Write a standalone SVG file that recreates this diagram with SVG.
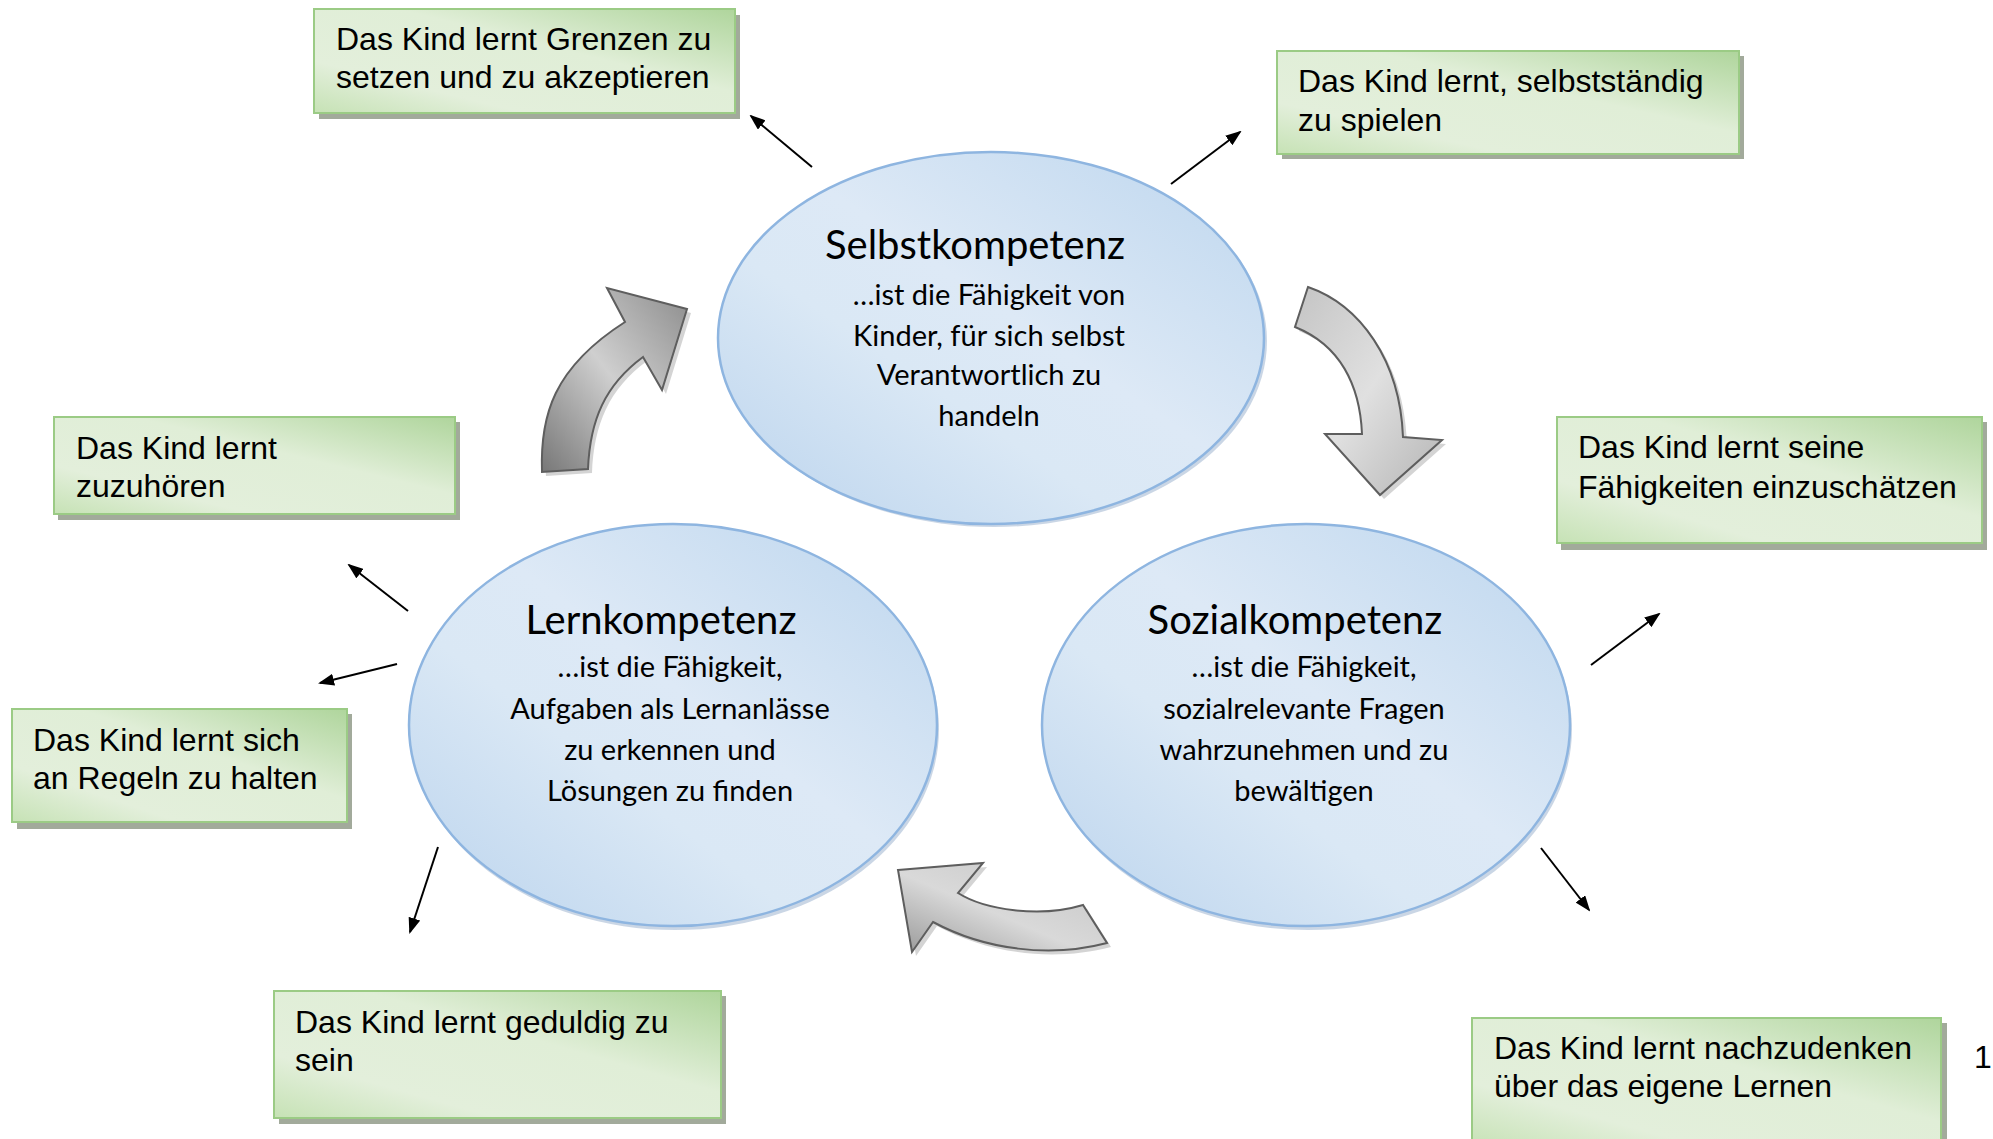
<svg xmlns="http://www.w3.org/2000/svg" width="1993" height="1139" viewBox="0 0 1993 1139">
<style>
.box{fill:url(#boxg);stroke:#9bcb85;stroke-width:2}
.bsh{fill:#a2aa9b}
.bt{font-family:"Liberation Sans",Arial,sans-serif;font-size:32px;fill:#000}
.ell{fill:url(#ellg);stroke:#8eb5e0;stroke-width:2.5}
.esh{fill:#9fb5cf;opacity:.55}
.tt{font-family:Lato,"Open Sans",sans-serif;font-size:40px;fill:#000;text-anchor:middle}
.et{font-family:Lato,"Open Sans",sans-serif;font-size:29px;fill:#000;text-anchor:middle}
.garr{stroke:#5e5e5e;stroke-width:2;stroke-linejoin:miter}
.gsh{fill:#c9c9c9;opacity:.8}
.con{stroke:#000;stroke-width:2;fill:none;marker-end:url(#ah)}
</style>
<defs>
<linearGradient id="boxg" x1="1" y1="0" x2="0" y2="1">
<stop offset="0" stop-color="#afd59c"/>
<stop offset="0.4" stop-color="#e0eed7"/>
<stop offset="0.75" stop-color="#e3efdb"/>
<stop offset="1" stop-color="#c6e2b5"/>
</linearGradient>
<linearGradient id="ellg" x1="1" y1="0" x2="0" y2="1">
<stop offset="0" stop-color="#bdd6ee"/>
<stop offset="0.45" stop-color="#dde9f6"/>
<stop offset="0.62" stop-color="#dae8f5"/>
<stop offset="1" stop-color="#bad3ed"/>
</linearGradient>
<linearGradient id="g1" x1="0" y1="1" x2="1" y2="0">
<stop offset="0" stop-color="#777"/>
<stop offset="0.5" stop-color="#cfcfcf"/>
<stop offset="1" stop-color="#8c8c8c"/>
</linearGradient>
<linearGradient id="g2" x1="0" y1="0" x2="1" y2="1">
<stop offset="0" stop-color="#c4c4c4"/>
<stop offset="0.5" stop-color="#e0e0e0"/>
<stop offset="1" stop-color="#b4b4b4"/>
</linearGradient>
<linearGradient id="g3" x1="0" y1="1" x2="1" y2="0">
<stop offset="0" stop-color="#999"/>
<stop offset="0.45" stop-color="#d9d9d9"/>
<stop offset="1" stop-color="#c4c4c4"/>
</linearGradient>
<marker id="ah" markerWidth="8" markerHeight="6" refX="7" refY="3" orient="auto" markerUnits="strokeWidth">
<path d="M0,0 L8,3 L0,6 Z" fill="#000"/>
</marker>
</defs>
<rect width="1993" height="1139" fill="#fff"/>

<g id="cycle-arrows">
<g id="arrow-up">
<path class="gsh" d="M546,476 C544,420 557,372 629,326 L611,292 L691,313 L666,394 L647,361 C609,389 594,424 592,473 Z"/>
<path class="garr" fill="url(#g1)" d="M542,472 C540,416 553,368 625,322 L607,288 L687,309 L662,390 L643,357 C605,385 590,420 588,469 Z"/>
</g>
<g id="arrow-down">
<path class="gsh" d="M1312,291 C1364,309 1404,364 1407,441 L1446,444 L1384,499 L1329,438 L1366,438 C1364,389 1344,349 1299,331 Z"/>
<path class="garr" fill="url(#g2)" d="M1308,287 C1360,305 1400,360 1403,437 L1442,440 L1380,495 L1325,434 L1362,434 C1360,385 1340,345 1295,327 Z"/>
</g>
<g id="arrow-left">
<path class="gsh" d="M902,874 L987,867 L962,897 C989,914 1044,922 1087,909 L1111,947 C1054,962 989,954 937,926 L916,956 Z"/>
<path class="garr" fill="url(#g3)" d="M898,870 L983,863 L958,893 C985,910 1040,918 1083,905 L1107,943 C1050,958 985,950 933,922 L912,952 Z"/>
</g>
</g>

<g id="lernkompetenz">
<ellipse class="esh" cx="675" cy="729" rx="264" ry="201"/>
<ellipse class="ell" cx="673" cy="725" rx="264" ry="201"/>
<text class="tt" x="661" y="634">Lernkompetenz</text>
<text class="et" x="670" y="677">…ist die Fähigkeit,</text>
<text class="et" x="670" y="719">Aufgaben als Lernanlässe</text>
<text class="et" x="670" y="760">zu erkennen und</text>
<text class="et" x="670" y="801">Lösungen zu finden</text>
</g>

<g id="sozialkompetenz">
<ellipse class="esh" cx="1308" cy="729" rx="264" ry="201"/>
<ellipse class="ell" cx="1306" cy="725" rx="264" ry="201"/>
<text class="tt" x="1295" y="634">Sozialkompetenz</text>
<text class="et" x="1304" y="677">…ist die Fähigkeit,</text>
<text class="et" x="1304" y="719">sozialrelevante Fragen</text>
<text class="et" x="1304" y="760">wahrzunehmen und zu</text>
<text class="et" x="1304" y="801">bewältigen</text>
</g>

<g id="selbstkompetenz">
<ellipse class="esh" cx="994" cy="341" rx="273" ry="186"/>
<ellipse class="ell" cx="991" cy="338" rx="273" ry="186"/>
<text class="tt" x="975" y="259">Selbstkompetenz</text>
<text class="et" x="989" y="305">…ist die Fähigkeit von</text>
<text class="et" x="989" y="346">Kinder, für sich selbst</text>
<text class="et" x="989" y="385">Verantwortlich zu</text>
<text class="et" x="989" y="426">handeln</text>
</g>

<g id="box-grenzen">
<rect class="bsh" x="319" y="15" width="421" height="104"/>
<rect class="box" x="314" y="9" width="421" height="104"/>
<text class="bt" x="336" y="50">Das Kind lernt Grenzen zu</text>
<text class="bt" x="336" y="88">setzen und zu akzeptieren</text>
</g>

<g id="box-selbststaendig">
<rect class="bsh" x="1282" y="56" width="462" height="103"/>
<rect class="box" x="1277" y="51" width="462" height="103"/>
<text class="bt" x="1298" y="92">Das Kind lernt, selbstständig</text>
<text class="bt" x="1298" y="131">zu spielen</text>
</g>

<g id="box-zuhoeren">
<rect class="bsh" x="58" y="422" width="402" height="98"/>
<rect class="box" x="54" y="417" width="401" height="97"/>
<text class="bt" x="76" y="459">Das Kind lernt</text>
<text class="bt" x="76" y="497">zuzuhören</text>
</g>

<g id="box-faehigkeiten">
<rect class="bsh" x="1561" y="422" width="426" height="128"/>
<rect class="box" x="1557" y="417" width="425" height="126"/>
<text class="bt" x="1578" y="458">Das Kind lernt seine</text>
<text class="bt" x="1578" y="498">Fähigkeiten einzuschätzen</text>
</g>

<g id="box-regeln">
<rect class="bsh" x="17" y="714" width="335" height="115"/>
<rect class="box" x="12" y="709" width="335" height="113"/>
<text class="bt" x="33" y="751">Das Kind lernt sich</text>
<text class="bt" x="33" y="789">an Regeln zu halten</text>
</g>

<g id="box-geduldig">
<rect class="bsh" x="279" y="996" width="447" height="128"/>
<rect class="box" x="274" y="991" width="447" height="127"/>
<text class="bt" x="295" y="1033">Das Kind lernt geduldig zu</text>
<text class="bt" x="295" y="1071">sein</text>
</g>

<g id="box-nachdenken">
<rect class="bsh" x="1477" y="1023" width="470" height="130"/>
<rect class="box" x="1472" y="1018" width="469" height="130"/>
<text class="bt" x="1494" y="1059">Das Kind lernt nachzudenken</text>
<text class="bt" x="1494" y="1097">über das eigene Lernen</text>
</g>

<text class="bt" x="1974" y="1068">1</text>

<g id="connectors">
<line class="con" x1="812" y1="167" x2="751" y2="116"/>
<line class="con" x1="1171" y1="184" x2="1240" y2="132"/>
<line class="con" x1="408" y1="611" x2="349" y2="565"/>
<line class="con" x1="397" y1="664" x2="320" y2="683"/>
<line class="con" x1="438" y1="847" x2="410" y2="932"/>
<line class="con" x1="1591" y1="665" x2="1659" y2="614"/>
<line class="con" x1="1541" y1="848" x2="1589" y2="910"/>
</g>
</svg>
